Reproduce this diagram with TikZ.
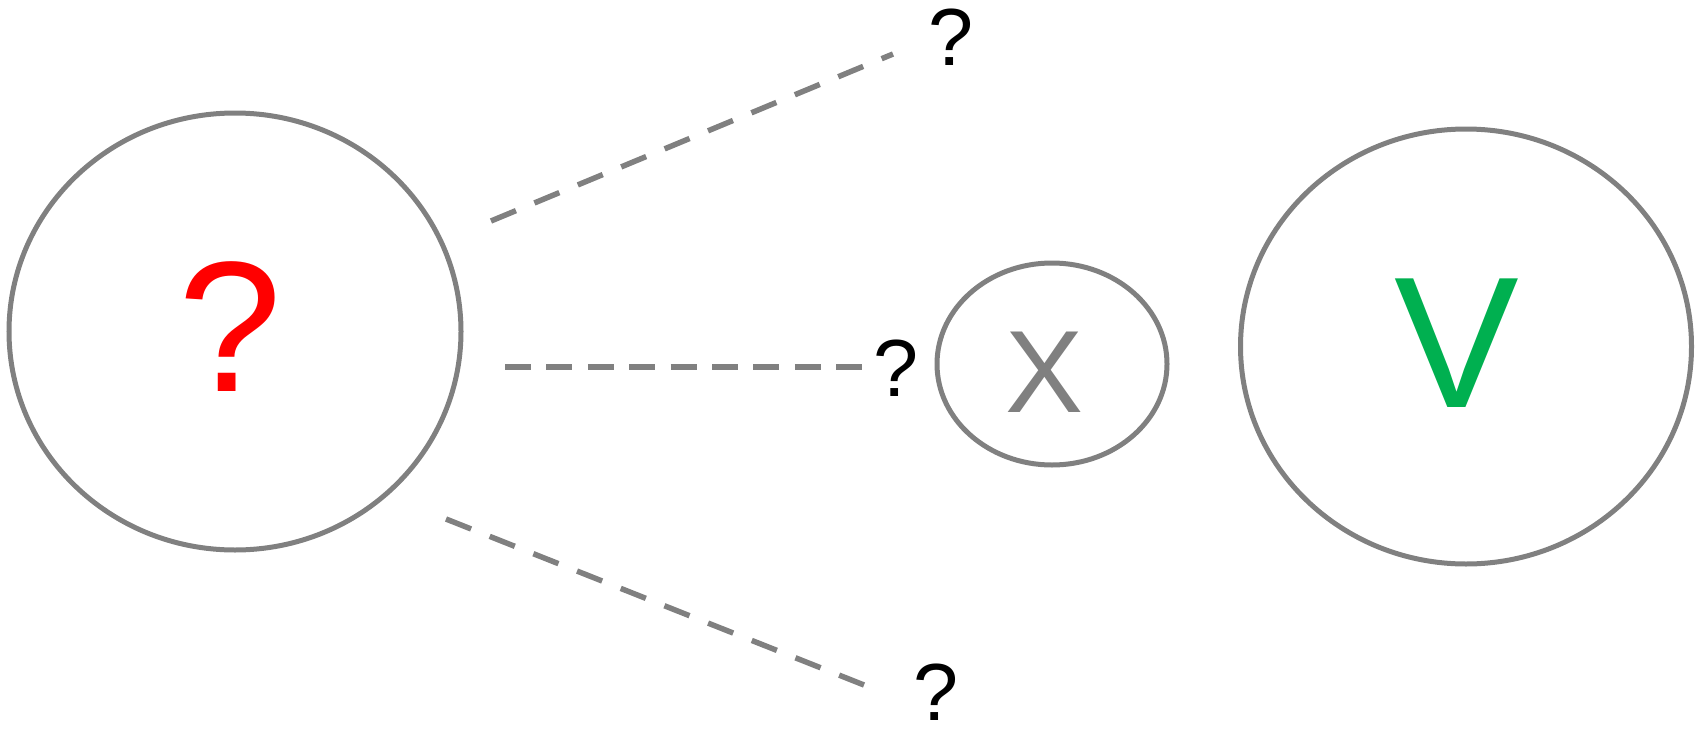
\documentclass[tikz,border=0pt]{standalone}
\usepackage{fontspec}
\setmainfont{Liberation Sans}
\usetikzlibrary{shapes.geometric}
\definecolor{lgray}{HTML}{808080}
\definecolor{qred}{HTML}{FF0000}
\definecolor{vgreen}{HTML}{00B050}
\tikzset{
  oval/.style={draw=lgray, line width=5pt, ellipse, inner sep=0pt},
  dashline/.style={draw=lgray, line width=5.5pt, dash pattern=on 27pt off 20pt},
  dashflat/.style={draw=lgray, line width=5.5pt, dash pattern=on 26pt off 15.4pt},
  smallq/.style={inner sep=0pt, font=\fontsize{81}{81}\selectfont},
  bigsym/.style={inner sep=0pt}
}
\begin{document}
\begin{tikzpicture}[x=1pt,y=-1pt]
\useasboundingbox (0,0) rectangle (1704,728);
\node[oval, minimum width=452pt, minimum height=437pt] (L) at (235,331.5) {};
\node[oval, minimum width=230pt, minimum height=202pt] (M) at (1052,364) {};
\node[oval, minimum width=451pt, minimum height=435pt] (R) at (1466,346.5) {};
\node[bigsym, text=qred, font=\fontsize{186}{186}\selectfont] (qr) at (230,327) {?};
\node[bigsym, text=lgray, font=\fontsize{117}{117}\selectfont] (xx) at (1045,372) {X};
\node[bigsym, text=vgreen, font=\fontsize{187}{187}\selectfont] (vv) at (1457,343) {V};
\node[smallq] (qt) at (951,37) {?};
\node[smallq] (qm) at (896,368) {?};
\node[smallq] (qb) at (936,692) {?};
\coordinate (t1) at (491,221);
\coordinate (t2) at (893,54);
\coordinate (m1) at (505,367);
\coordinate (m2) at (862,367);
\coordinate (b1) at (446,519);
\coordinate (b2) at (864,685);
\draw[dashline] (t1) -- (t2);
\draw[dashflat] (m1) -- (m2);
\draw[dashline] (b1) -- (b2);
\end{tikzpicture}
\end{document}
